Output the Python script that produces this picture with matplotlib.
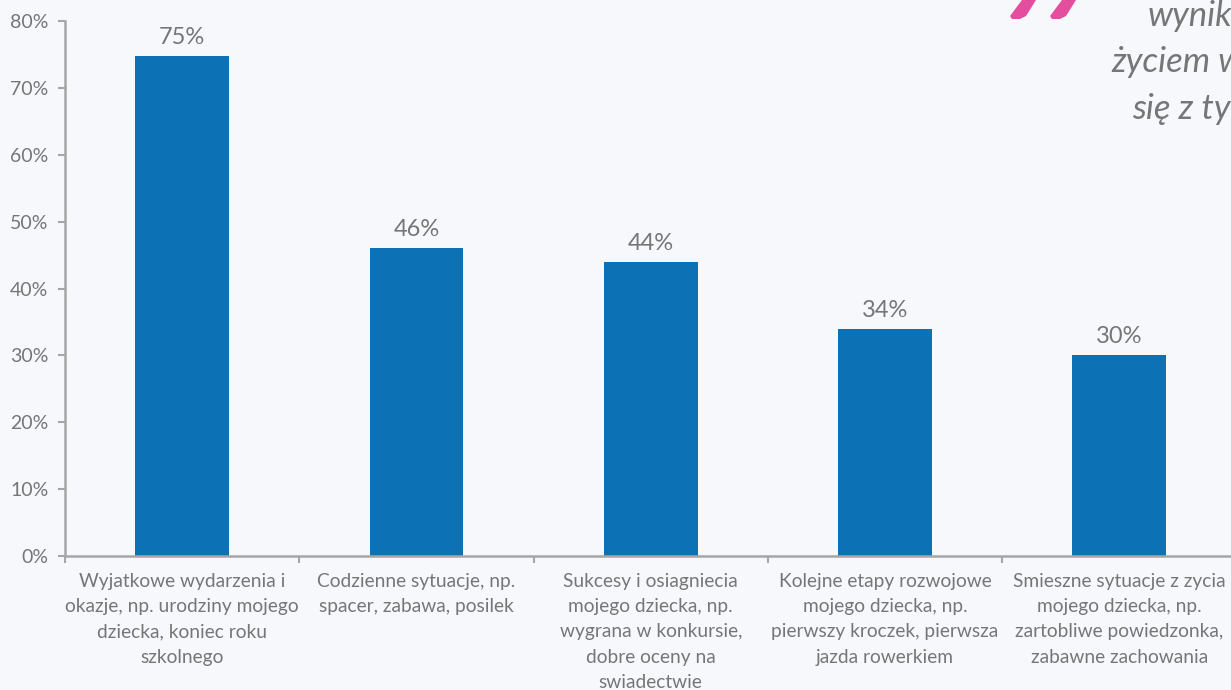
import matplotlib
matplotlib.use("Agg")
import matplotlib.pyplot as plt
from matplotlib.patches import Polygon

categories = [
    "Wyjatkowe wydarzenia i\nokazje, np. urodziny mojego\ndziecka, koniec roku\nszkolnego",
    "Codzienne sytuacje, np.\nspacer, zabawa, posilek",
    "Sukcesy i osiagniecia\nmojego dziecka, np.\nwygrana w konkursie,\ndobre oceny na\nswiadectwie",
    "Kolejne etapy rozwojowe\nmojego dziecka, np.\npierwszy kroczek, pierwsza\njazda rowerkiem",
    "Smieszne sytuacje z zycia\nmojego dziecka, np.\nzartobliwe powiedzonka,\nzabawne zachowania",
]
values = [74.7, 46, 44, 34, 30]
value_labels = ["75%", "46%", "44%", "34%", "30%"]
y_ticks = [0, 10, 20, 30, 40, 50, 60, 70, 80]
quote_lines = ["wynik", "życiem w", "się z ty"]

W, H = 1231, 690
GREY = "#767676"
AXIS = "#a6a6a6"
BG = "#f6f8fc"
BLUE = "#0d72b5"
PINK = "#e54e9f"

plt.rcParams["font.family"] = ["Lato", "DejaVu Sans"]

fig = plt.figure(figsize=(W / 100, H / 100), dpi=100, facecolor=BG)
# axes run past the right edge of the picture, last category tick is cut off
ax = fig.add_axes([65 / W, 1 - 556 / H, 1171.5 / W, 535 / H], facecolor=BG)

x = range(len(values))
ax.bar(x, values, width=0.4, color=BLUE)
for i, v in enumerate(values):
    ax.text(i, v + 1.2, value_labels[i], ha="center", va="bottom", fontsize=17, color=GREY)

ax.set_xlim(-0.5, 4.5)
ax.set_ylim(0, 80)
ax.set_yticks(y_ticks)
ax.set_yticklabels([str(t) + "%" for t in y_ticks], fontsize=14, color=GREY)
ax.set_xticks([i - 0.5 for i in range(6)])
ax.set_xticklabels([])
ax.tick_params(axis="both", color=AXIS, width=1.5, length=5, pad=7)

for s in ["top", "right"]:
    ax.spines[s].set_visible(False)
for s in ["left", "bottom"]:
    ax.spines[s].set_color(AXIS)
    ax.spines[s].set_linewidth(1.8)

# category labels
for i, c in enumerate(categories):
    ax.annotate(c, xy=(i, 0), xycoords=("data", "axes fraction"), xytext=(0, -12),
                textcoords="offset points", ha="center", va="top", fontsize=13.8,
                color=GREY, linespacing=1.6, annotation_clip=False)

# quote cut off by the right edge
for line, xpx, ypx in zip(quote_lines, [1148, 1111, 1132], [16, 62, 109]):
    fig.text(xpx / W, 1 - ypx / H, line, ha="left", va="center", fontsize=25,
             style="italic", color=GREY)

# pink quotation mark, only its lower part shows
for dx in [0, 40]:
    pts = [(1022 + dx, 0), (1036 + dx, 0), (1026 + dx, 16), (1020 + dx, 19), (1012 + dx, 19), (1010 + dx, 16)]
    fig.add_artist(Polygon([(px / W, 1 - py / H) for px, py in pts], closed=True,
                           transform=fig.transFigure, facecolor=PINK, edgecolor="none"))

fig.savefig("out.png", dpi=100, facecolor=BG)
